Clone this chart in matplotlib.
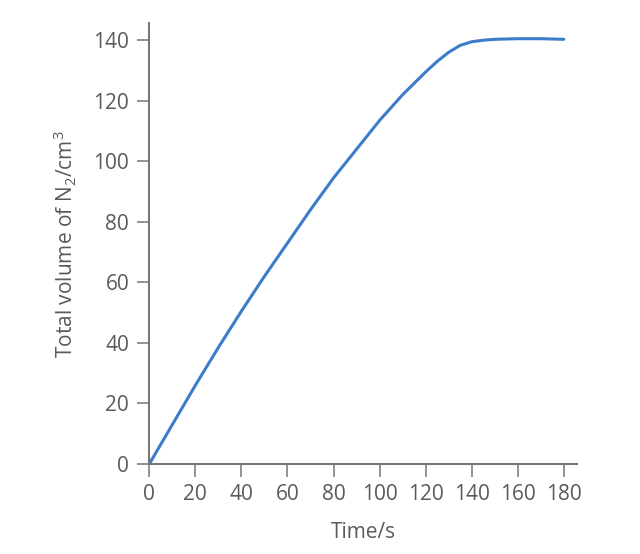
import numpy as np
import matplotlib
matplotlib.use("Agg")
import matplotlib.pyplot as plt

time_s = [0, 10, 20, 30, 40, 50, 60, 70, 80, 90, 100, 110, 120, 125, 130, 135, 140, 145, 150, 160, 170, 180]
volume = [0, 13, 26, 38.5, 50.5, 62, 73, 84, 94.5, 104, 113.5, 122, 129.5, 133, 136, 138.3, 139.5, 140.0, 140.3, 140.5, 140.5, 140.3]

x_ticks = [0, 20, 40, 60, 80, 100, 120, 140, 160, 180]
y_ticks = [0, 20, 40, 60, 80, 100, 120, 140]

plt.rcParams['font.family'] = ['Open Sans', 'DejaVu Sans']
plt.rcParams['mathtext.fontset'] = 'custom'
plt.rcParams['mathtext.rm'] = 'Open Sans'
plt.rcParams['mathtext.it'] = 'Open Sans'

text_col = '#5a5a5a'
axis_col = '#777777'
fs = 15

fig = plt.figure(figsize=(6.4, 5.54), dpi=100)
ax = fig.add_axes([0.2333, 0.1625, 0.6678, 0.7955])

ax.plot(time_s, volume, color='#3d7cc9', lw=2.2, solid_capstyle='round', solid_joinstyle='round')

ax.set_xlim(0, 185.6)
ax.set_ylim(0, 145.6)
ax.set_xticks(x_ticks)
ax.set_yticks(y_ticks)

for side in ['top', 'right']:
    ax.spines[side].set_visible(False)
for side in ['left', 'bottom']:
    ax.spines[side].set_color(axis_col)
    ax.spines[side].set_linewidth(1.5)

ax.tick_params(direction='out', length=9, width=1.1, color=axis_col,
               labelcolor=text_col, labelsize=fs, pad=5.5)

ax.set_xlabel('Time/s', color=text_col, fontsize=fs, labelpad=12)
ax.set_ylabel('Total volume of N$_2$/cm$^3$', color=text_col, fontsize=fs, labelpad=10)

fig.savefig('out.png', dpi=100)
